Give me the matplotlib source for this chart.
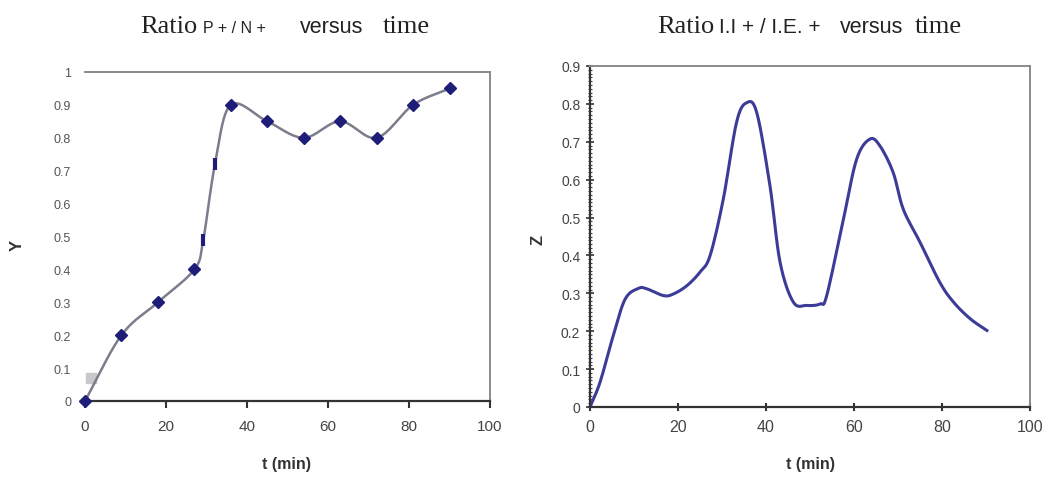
import numpy as np
import matplotlib.pyplot as plt
from matplotlib.ticker import MultipleLocator

# Left panel: ratio P+/N+ (markers)
t_left = [0, 9, 18, 27, 29.2, 32.1, 36, 45, 54, 63, 72, 81, 90]
y_left = [0, 0.2, 0.3, 0.4, 0.49, 0.72, 0.9, 0.85, 0.8, 0.85, 0.8, 0.9, 0.95]
dash_idx = [4, 5]  # points drawn as short dashes on the steep part

# Right panel: ratio I.I+/I.E.+ (curve)
t_right = [0, 2.3, 5.3, 8.0, 11.0, 12.9, 16.7, 18.9, 22.0, 25.0, 27.3, 30.3, 33.3,
           35.6, 37.9, 40.9, 43.2, 46.2, 49.2, 52.3, 53.8, 57.6, 60.6, 63.6, 65.9,
           68.9, 71.2, 75.0, 79.5, 82.6, 86.4, 90.2]
z_right = [0, 0.066, 0.189, 0.285, 0.313, 0.312, 0.294, 0.298, 0.32, 0.356, 0.40,
           0.549, 0.751, 0.803, 0.777, 0.584, 0.382, 0.277, 0.268, 0.272, 0.294,
           0.496, 0.654, 0.707, 0.689, 0.619, 0.522, 0.435, 0.329, 0.277, 0.233, 0.202]

x_ticks = [0, 20, 40, 60, 80, 100]

SERIF = "Liberation Serif"
SANS = "Liberation Sans"


def smooth(x, y, n=20):
    """Catmull-Rom curve through the points (like Excel's smoothed line)."""
    x = np.asarray(x, float)
    y = np.asarray(y, float)
    px = np.concatenate([[2 * x[0] - x[1]], x, [2 * x[-1] - x[-2]]])
    py = np.concatenate([[2 * y[0] - y[1]], y, [2 * y[-1] - y[-2]]])
    xs, ys = [], []
    s = np.linspace(0, 1, n, endpoint=False)
    for i in range(1, len(px) - 2):
        for arr, out in ((px, xs), (py, ys)):
            p0, p1, p2, p3 = arr[i - 1], arr[i], arr[i + 1], arr[i + 2]
            out.extend(0.5 * (2 * p1 + (-p0 + p2) * s
                              + (2 * p0 - 5 * p1 + 4 * p2 - p3) * s ** 2
                              + (-p0 + 3 * p1 - 3 * p2 + p3) * s ** 3))
    xs.append(x[-1]); ys.append(y[-1])
    return np.array(xs), np.array(ys)


fig = plt.figure(figsize=(10.57, 4.85), dpi=100)
W, H = 1057, 485


def px_axes(l, t, r, b):
    return fig.add_axes([l / W, 1 - b / H, (r - l) / W, (b - t) / H])


# ---------- left panel ----------
ax1 = px_axes(85, 73, 490, 402)
sx, sy = smooth(t_left, y_left)
ax1.plot(sx, sy, color="#7c7c8c", lw=1.8, zorder=2, clip_on=False)
main_idx = [i for i in range(len(t_left)) if i not in dash_idx]
ax1.plot([t_left[i] for i in main_idx], [y_left[i] for i in main_idx], "D",
         color="#1e1e78", ms=6, zorder=3, clip_on=False)
ax1.plot([t_left[i] for i in dash_idx], [y_left[i] for i in dash_idx], "|",
         color="#1e1e78", ms=9, mew=3, zorder=3, clip_on=False)
ax1.plot([1.5], [0.07], "s", color="#c8c8c8", ms=7, zorder=1)
ax1.set_xlim(0, 100)
ax1.set_ylim(0, 1)
ax1.set_xticks(x_ticks)
ax1.set_yticks(np.round(np.arange(0, 1.01, 0.1), 1))
ax1.set_yticklabels(["0", "0.1", "0.2", "0.3", "0.4", "0.5", "0.6", "0.7", "0.8", "0.9", "1"])
ax1.spines["left"].set_visible(False)
ax1.spines["bottom"].set_color("#333333")
ax1.spines["bottom"].set_linewidth(1.6)
for s in ("top", "right"):
    ax1.spines[s].set_color("#8a8a8a")
    ax1.spines[s].set_linewidth(1.4)
ax1.tick_params(axis="x", direction="out", length=5, width=1.5, color="#333333",
                labelsize=11, labelcolor="#444444", pad=8)
ax1.tick_params(axis="y", length=0, labelsize=9, labelcolor="#555555", pad=10)
for lab in ax1.get_xticklabels() + ax1.get_yticklabels():
    lab.set_family(SANS)

# ---------- right panel ----------
ax2 = px_axes(590, 67, 1030, 408)
rx, ry = smooth(t_right, z_right, n=8)
ax2.plot(rx, ry, color="#3c3c98", lw=2.2, clip_on=False)
ax2.set_xlim(0, 100)
ax2.set_ylim(0, 0.9)
ax2.set_xticks(x_ticks)
ax2.set_yticks(np.round(np.arange(0, 0.91, 0.1), 1))
ax2.set_yticklabels(["0", "0.1", "0.2", "0.3", "0.4", "0.5", "0.6", "0.7", "0.8", "0.9"])
ax2.yaxis.set_minor_locator(MultipleLocator(0.01))
for s in ("top", "right"):
    ax2.spines[s].set_color("#8a8a8a")
    ax2.spines[s].set_linewidth(1.4)
for s in ("left", "bottom"):
    ax2.spines[s].set_color("#333333")
    ax2.spines[s].set_linewidth(1.6)
ax2.tick_params(axis="x", direction="inout", length=6, width=1.5, color="#333333",
                labelsize=11.5, labelcolor="#444444", pad=6)
ax2.tick_params(axis="y", which="major", direction="inout", length=6, width=1.2,
                color="#333333", labelsize=10, labelcolor="#444444", pad=4)
ax2.tick_params(axis="y", which="minor", direction="inout", length=3, width=0.8,
                color="#444444")
for lab in ax2.get_xticklabels() + ax2.get_yticklabels():
    lab.set_family(SANS)

# ---------- axis labels ----------
fig.text(17 / W, 1 - 245 / H, "Y", rotation=90, ha="center", va="center",
         family=SANS, fontweight="bold", fontsize=12, color="#333333")
fig.text(287 / W, 1 - 465 / H, "t (min)", ha="center", va="center",
         family=SANS, fontweight="bold", fontsize=11.5, color="#333333")
fig.text(538 / W, 1 - 240 / H, "Z", rotation=90, ha="center", va="center",
         family=SANS, fontweight="bold", fontsize=12, color="#333333")
fig.text(810 / W, 1 - 465 / H, "t (min)", ha="center", va="center",
         family=SANS, fontweight="bold", fontsize=11.5, color="#333333")

# ---------- titles (mixed fonts, placed piece by piece) ----------
def title_piece(x, text, family, size):
    fig.text(x / W, 1 - 33 / H, text, ha="left", va="baseline",
             family=family, fontsize=size, color="#222222")

title_piece(140, "Ratio", SERIF, 19)
title_piece(203, "P + / N +", SANS, 11.5)
title_piece(300, "versus", SANS, 15.5)
title_piece(383, "time", SERIF, 19)

title_piece(657, "Ratio", SERIF, 19)
title_piece(719, "I.I + / I.E. +", SANS, 15)
title_piece(840, "versus", SANS, 15.5)
title_piece(915, "time", SERIF, 19)

fig.savefig("out.png", dpi=100)
